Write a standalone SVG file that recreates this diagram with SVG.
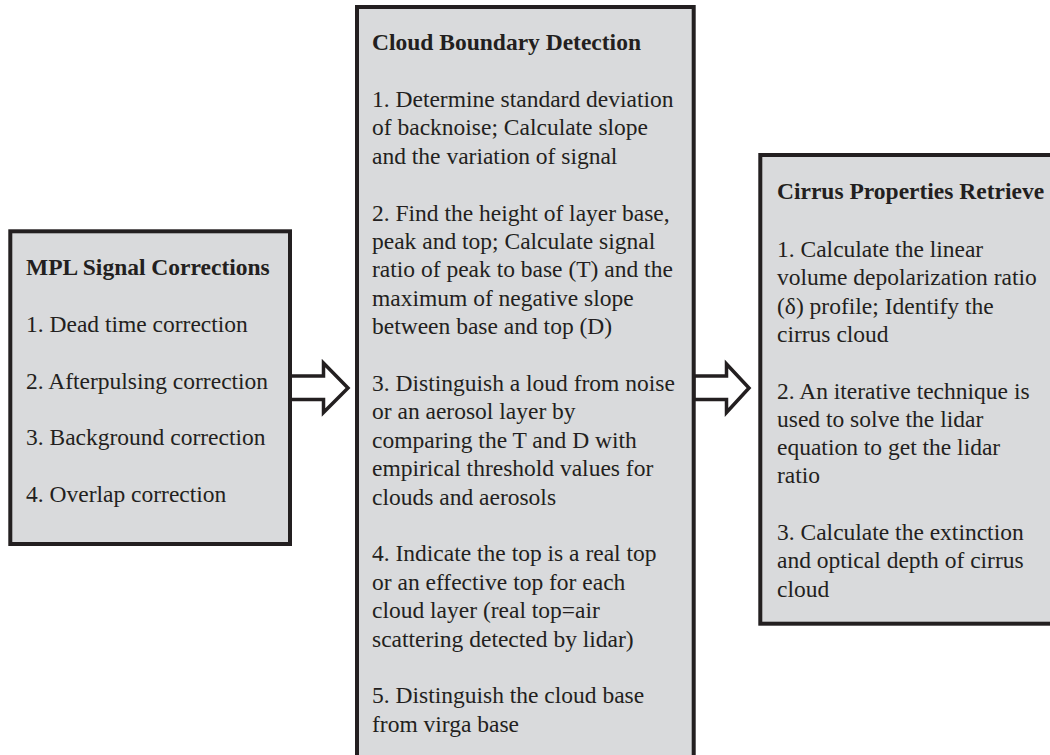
<svg xmlns="http://www.w3.org/2000/svg" width="1050" height="755" viewBox="0 0 1050 755">
<style>
.box{fill:#d9dadc;stroke:#231f20;stroke-width:4}
.arr{fill:#ffffff;stroke:#231f20;stroke-width:3.5;stroke-linejoin:miter}
text{font-family:"Liberation Serif","Times New Roman",serif;font-size:23.5px;fill:#231f20}
.t{font-weight:bold}
</style>
<rect width="1050" height="755" fill="#ffffff"/>
<g id="connectors">
<path class="arr" d="M290,376 H323.5 V363 L348,388 L323.5,412.5 V399.5 H290 Z"/>
<path class="arr" d="M693.7,376 H726.5 V364 L749,388 L726.5,412.5 V399.5 H693.7 Z"/>
</g>
<g id="mpl">
<rect class="box" x="10.3" y="231.3" width="279.7" height="312.7"/>
<text class="t" x="26" y="275">MPL Signal Corrections</text>
<text x="26" y="332">1. Dead time correction</text>
<text x="26" y="388.5">2. Afterpulsing correction</text>
<text x="26" y="445">3. Background correction</text>
<text x="26" y="501.5">4. Overlap correction</text>
</g>
<g id="cloud">
<rect class="box" x="357" y="7" width="336.7" height="760"/>
<text class="t" x="372" y="50">Cloud Boundary Detection</text>
<text x="372" y="107">1. Determine standard deviation</text>
<text x="372" y="135.4">of backnoise; Calculate slope</text>
<text x="372" y="163.8">and the variation of signal</text>
<text x="372" y="220.6">2. Find the height of layer base,</text>
<text x="372" y="249">peak and top; Calculate signal</text>
<text x="372" y="277.4">ratio of peak to base (T) and the</text>
<text x="372" y="305.8">maximum of negative slope</text>
<text x="372" y="334.2">between base and top (D)</text>
<text x="372" y="391">3. Distinguish a loud from noise</text>
<text x="372" y="419.4">or an aerosol layer by</text>
<text x="372" y="447.8">comparing the T and D with</text>
<text x="372" y="476.2">empirical threshold values for</text>
<text x="372" y="504.6">clouds and aerosols</text>
<text x="372" y="561.4">4. Indicate the top is a real top</text>
<text x="372" y="589.8">or an effective top for each</text>
<text x="372" y="618.2">cloud layer (real top=air</text>
<text x="372" y="646.6">scattering detected by lidar)</text>
<text x="372" y="703.4">5. Distinguish the cloud base</text>
<text x="372" y="731.8">from virga base</text>
</g>
<g id="cirrus">
<rect class="box" x="760.3" y="155" width="400" height="468.7"/>
<text class="t" x="777" y="199">Cirrus Properties Retrieve</text>
<text x="777" y="257">1. Calculate the linear</text>
<text x="777" y="285.3">volume depolarization ratio</text>
<text x="777" y="313.6">(δ) profile; Identify the</text>
<text x="777" y="341.9">cirrus cloud</text>
<text x="777" y="398.5">2. An iterative technique is</text>
<text x="777" y="426.8">used to solve the lidar</text>
<text x="777" y="455.1">equation to get the lidar</text>
<text x="777" y="483.4">ratio</text>
<text x="777" y="540">3. Calculate the extinction</text>
<text x="777" y="568.3">and optical depth of cirrus</text>
<text x="777" y="596.6">cloud</text>
</g>
</svg>
